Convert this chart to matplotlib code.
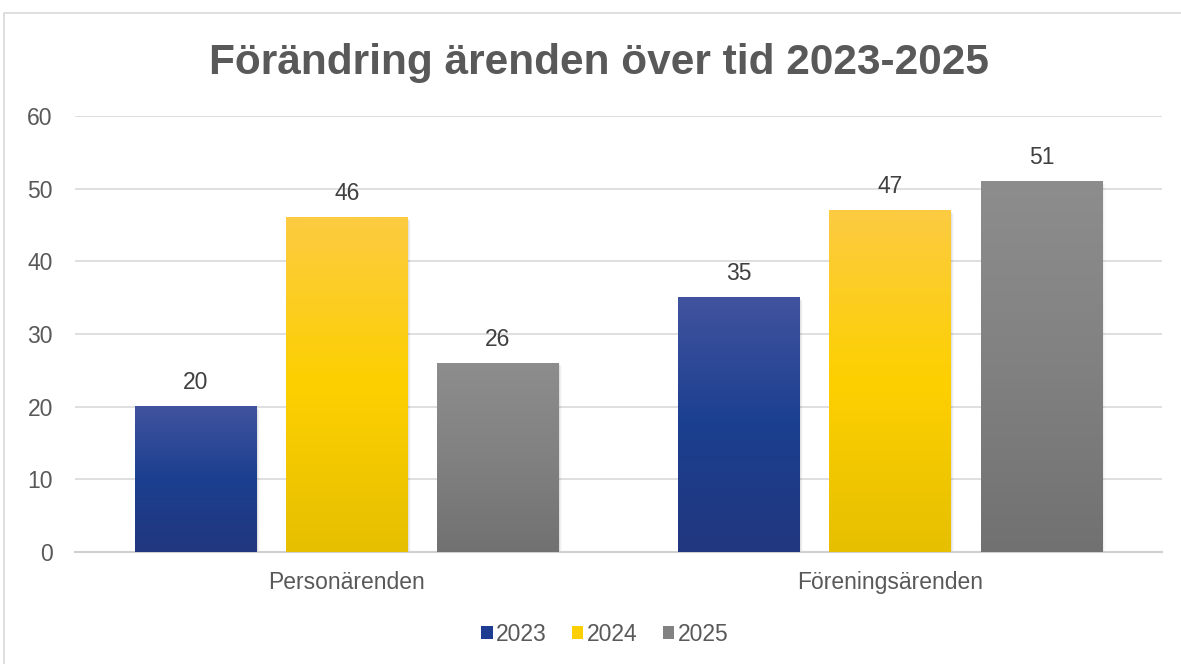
import numpy as np
import matplotlib.pyplot as plt
from matplotlib.colors import LinearSegmentedColormap
from matplotlib.patches import Patch, Rectangle

plt.rcParams['font.family'] = ['Liberation Sans', 'DejaVu Sans']

# Data
categories = ['Personärenden', 'Föreningsärenden']
years = ['2023', '2024', '2025']
values_2023 = [20, 35]
values_2024 = [46, 47]
values_2025 = [26, 51]
series = [values_2023, values_2024, values_2025]

# gradient colours (top, middle, bottom) per year
gradients = [
    ['#41539f', '#1b3f8f', '#22377f'],
    ['#fccb42', '#fdd000', '#e6bf00'],
    ['#8d8d8d', '#818181', '#717171'],
]
legend_colors = ['#1f3c93', '#fcd000', '#828282']
text_color = '#595959'

fig = plt.figure(figsize=(11.81, 6.64), dpi=100)
ax = fig.add_axes([0.0635, 0.1687, 0.9205, 0.6563])

# outer chart border
fig.patches.append(Rectangle((4 / 1181, -0.01), 1.0, (664 - 13) / 664 + 0.01,
                             transform=fig.transFigure, fill=False,
                             edgecolor='#d9d9d9', linewidth=1.2))

x = np.arange(len(categories))
width = 0.224
step = 0.278

for i, vals in enumerate(series):
    cmap = LinearSegmentedColormap.from_list('g%d' % i, gradients[i])
    grad = np.linspace(0, 1, 256).reshape(-1, 1)
    for j, v in enumerate(vals):
        xc = x[j] + (i - 1) * step
        # soft shadow
        for k, a in enumerate([0.06, 0.04, 0.02]):
            ax.add_patch(Rectangle((xc - width / 2 + 0.002 * (k + 1), 0), width, v - 0.15 * (k + 1),
                                   facecolor='black', alpha=a, edgecolor='none', zorder=2))
        ax.imshow(grad, cmap=cmap, aspect='auto', zorder=3,
                  extent=[xc - width / 2, xc + width / 2, 0, v], origin='upper')
        ax.annotate(str(v), (xc, v), xytext=(0, 9), textcoords='offset points',
                    ha='center', va='bottom', fontsize=16.5, color='#404040')

ax.set_xlim(-0.5, 1.5)
ax.set_ylim(0, 60)
ax.set_yticks(range(0, 61, 10))
ax.set_xticks(x)
ax.set_xticklabels(categories)
ax.tick_params(axis='both', length=0, labelsize=16.5, labelcolor=text_color)
ax.tick_params(axis='y', pad=16)
ax.tick_params(axis='x', pad=14)
ax.grid(axis='y', color='#d9d9d9', linewidth=1.2, zorder=0)
ax.set_axisbelow(True)
for s in ['top', 'right', 'left']:
    ax.spines[s].set_visible(False)
ax.spines['bottom'].set_color('#d0d0d0')
ax.spines['bottom'].set_linewidth(1.5)

fig.text(0.507, 0.905, 'Förändring ärenden över tid 2023-2025', ha='center', va='center',
         fontsize=30.5, fontweight='bold', color=text_color)

handles = [Patch(facecolor=c, edgecolor='none') for c in legend_colors]
fig.legend(handles, years, loc='center', bbox_to_anchor=(0.512, 0.045), ncol=3,
           frameon=False, fontsize=16.5, handlelength=0.5, handleheight=0.5,
           handletextpad=0.15, columnspacing=1.1, labelcolor=text_color)

fig.savefig('out.png', dpi=100)
